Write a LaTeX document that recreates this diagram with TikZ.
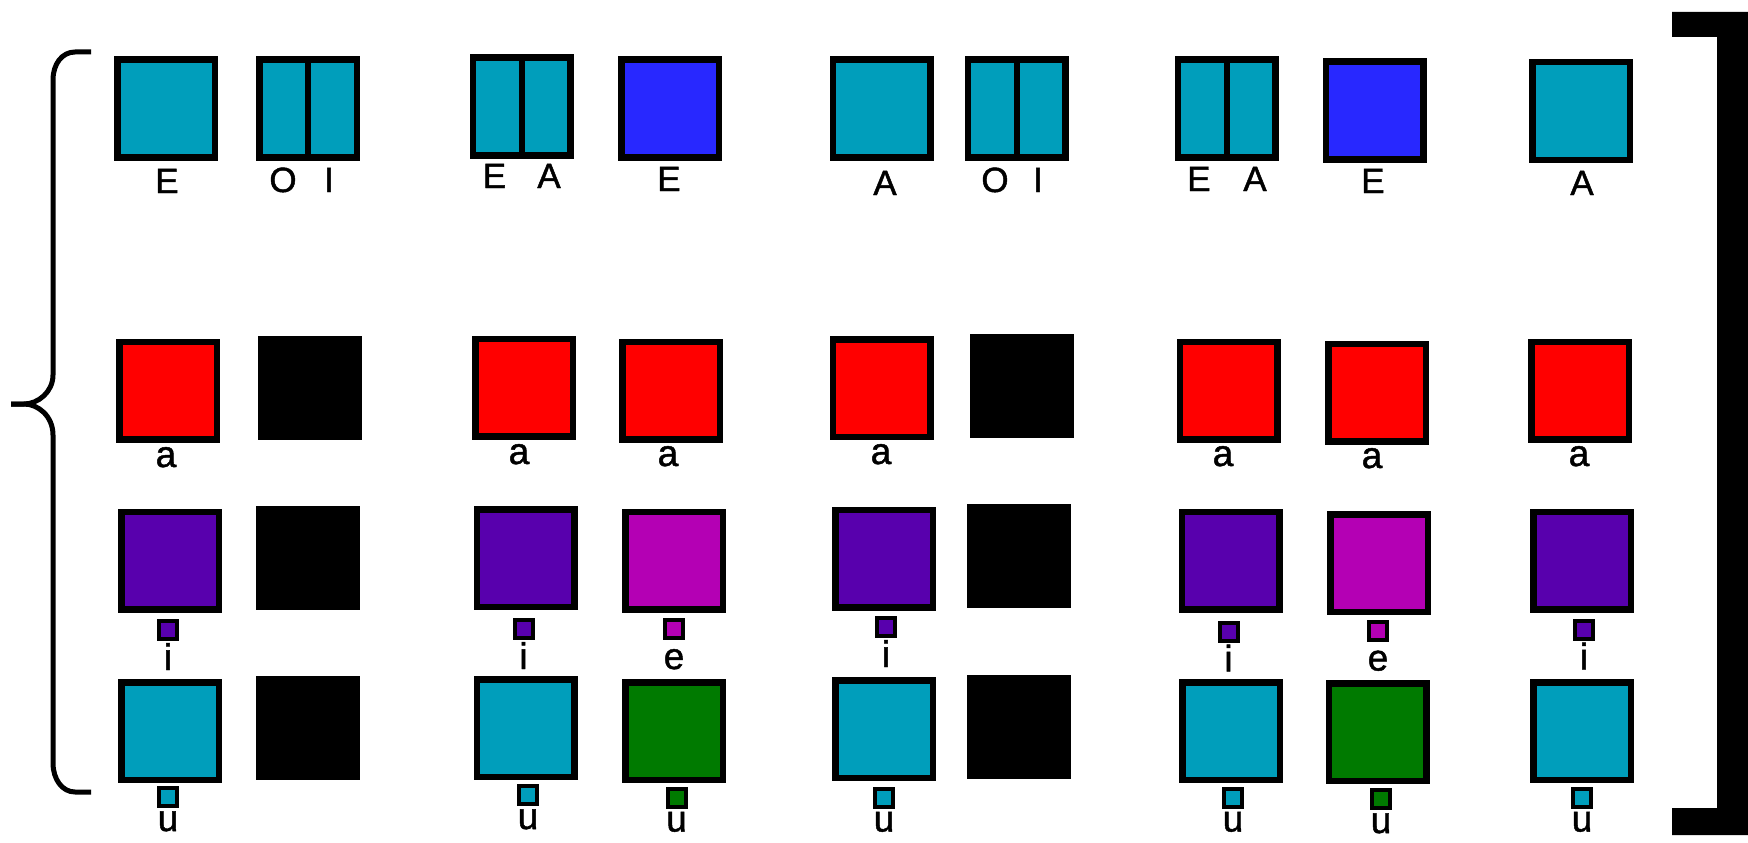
\documentclass[tikz,border=0pt]{standalone}
\usepackage{fontspec}
\setmainfont{Liberation Sans}
\newfontfamily\labfont{Liberation Sans}[FakeBold=1.3]

\definecolor{vcyan}{RGB}{0,158,187}
\definecolor{vblue}{RGB}{40,40,255}
\definecolor{vred}{RGB}{255,0,0}
\definecolor{vpurple}{RGB}{88,0,173}
\definecolor{vmagenta}{RGB}{180,0,180}
\definecolor{vgreen}{RGB}{0,122,0}

\begin{document}
\begin{tikzpicture}[x=1pt, y=-1pt,
    box/.style={draw=black, line width=6.5pt, minimum size=97.5pt, inner sep=0pt},
    cyanbox/.style={box, fill=vcyan},
    bluebox/.style={box, fill=vblue},
    redbox/.style={box, fill=vred},
    purplebox/.style={box, fill=vpurple},
    magentabox/.style={box, fill=vmagenta},
    greenbox/.style={box, fill=vgreen},
    gapbox/.style={fill=black, minimum size=104pt, inner sep=0pt},
    mini/.style={draw=black, line width=4pt, minimum size=18pt, inner sep=0pt},
    uclab/.style={anchor=base, inner sep=0pt, font=\labfont\fontsize{35}{40}\selectfont},
    lclab/.style={anchor=base, inner sep=0pt, font=\labfont\fontsize{37}{42}\selectfont}]
    \useasboundingbox (0,0) rectangle (1748,843);

    % curly brace on the left
    \draw[line width=5pt, line join=round] (91,52) -- (75,52) .. controls (62,52) and (53,64) .. (53,80)
        -- (53,375) .. controls (53,392) and (38,404) .. (24,404) -- (11,404);
    \draw[line width=5pt, line join=round] (11,404) -- (24,404) .. controls (38,404) and (53,416) .. (53,435)
        -- (53,763) .. controls (53,779) and (62,792) .. (75,792) -- (91,792);

    % square bracket on the right
    \fill (1672,12) -| (1748,835) -| (1672,808) -| (1717,37) -- (1672,37) -- cycle;

    % top row
    \foreach \x/\y/\s [count=\k] in {166/108.5/cyanbox, 308/108.5/cyanbox, 521.5/106.5/cyanbox,
        670/108.5/bluebox, 881.5/108.5/cyanbox, 1016.5/108.5/cyanbox, 1226.5/108.5/cyanbox,
        1374.5/110.5/bluebox, 1581/111/cyanbox}
        \node[\s] (top\k) at (\x,\y) {};
    \foreach \k in {2,3,6,7}
        \draw[line width=6pt] (top\k.north) -- (top\k.south);

    \foreach \x/\y/\t [count=\k] in {167/193/E, 283/192/O, 329/192/I, 494.5/188/E, 549/188/A,
        669/191/E, 885/195/A, 995/192/O, 1038/192/I, 1199/191/E, 1255/191/A, 1373/193/E, 1582/195/A}
        \node[uclab] (cap\k) at (\x,\y) {\t};

    % a row
    \foreach \x/\y/\s [count=\k] in {168/390.5/redbox, 309.5/387.5/gapbox, 524/387.5/redbox,
        671/390.5/redbox, 881.5/388/redbox, 1021.5/386/gapbox, 1228.5/390.5/redbox,
        1377/392.5/redbox, 1580/390.5/redbox}
        \node[\s] (a\k) at (\x,\y) {};
    \foreach \x/\y [count=\k] in {166/467, 519/464, 668/466, 881/464, 1223/466, 1372/468, 1579/466}
        \node[lclab] (la\k) at (\x,\y) {a};

    % i row
    \foreach \x/\y/\s [count=\k] in {170/560.5/purplebox, 308/558/gapbox, 525.5/558/purplebox,
        674/560.5/magentabox, 884/558.5/purplebox, 1019/556/gapbox, 1230.5/560.5/purplebox,
        1379/563/magentabox, 1582/560.5/purplebox}
        \node[\s] (i\k) at (\x,\y) {};
    \foreach \x/\y/\c/\t [count=\k] in {168/630/vpurple/i, 523.5/629/vpurple/i, 674/629/vmagenta/e,
        886/627/vpurple/i, 1228.5/631.5/vpurple/i, 1378/630.5/vmagenta/e, 1584/629.5/vpurple/i}
    {
        \node[mini, fill=\c] (si\k) at (\x,\y) {};
        \node[lclab] (li\k) at (\x,\y+40) {\t};
    }

    % u row
    \foreach \x/\y/\s [count=\k] in {170/731/cyanbox, 308/728/gapbox, 525.5/728/cyanbox,
        674/731/greenbox, 884/729/cyanbox, 1019/727/gapbox, 1231/731/cyanbox,
        1377.5/732/greenbox, 1582/731/cyanbox}
        \node[\s] (u\k) at (\x,\y) {};
    \foreach \x/\y/\c [count=\k] in {168/797/vcyan, 528/795/vcyan, 676.5/797.5/vgreen,
        884/797.5/vcyan, 1233/797.5/vcyan, 1381/799/vgreen, 1582/797.5/vcyan}
    {
        \node[mini, fill=\c] (su\k) at (\x,\y) {};
        \node[lclab] (lu\k) at (\x,\y+34) {u};
    }
\end{tikzpicture}
\end{document}
